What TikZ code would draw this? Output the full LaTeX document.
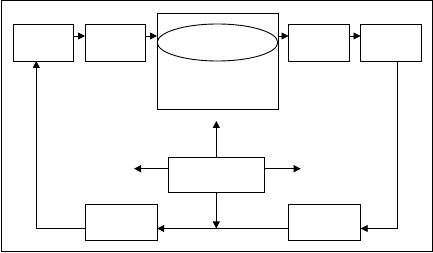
\documentclass[tikz,border=0pt]{standalone}
\usetikzlibrary{arrows.meta,shapes.geometric}
\begin{document}
\begin{tikzpicture}[x=1pt,y=-1pt,
  box/.style={draw,line width=0.9pt,rectangle,inner sep=0pt,outer sep=0pt},
  oval/.style={draw,line width=0.9pt,ellipse,inner sep=0pt,outer sep=0pt},
  arr/.style={line width=0.9pt,-{Triangle[length=7pt,width=7pt]}},
  ln/.style={line width=0.9pt}]
\useasboundingbox (0,0) rectangle (433,253);
\draw[line width=1pt] (1,1) rectangle (432,252);
% top row
\node[box,minimum width=60pt,minimum height=37pt] (b1) at (43,42.5) {};
\node[box,minimum width=60pt,minimum height=37pt] (b2) at (115,42.5) {};
\node[box,minimum width=121pt,minimum height=96pt] (big) at (217.5,61) {};
\node[oval,minimum width=120.5pt,minimum height=37pt] (ell) at (217.5,42.5) {};
\node[box,minimum width=61pt,minimum height=37pt] (b4) at (319,42.5) {};
\node[box,minimum width=61pt,minimum height=37pt] (b5) at (391,42.5) {};
% middle and bottom
\node[box,minimum width=96pt,minimum height=35pt] (b8) at (216.3,174.7) {};
\node[box,minimum width=72pt,minimum height=35.7pt] (b6) at (324.7,222.8) {};
\node[box,minimum width=72pt,minimum height=35.7pt] (b7) at (121.2,222.8) {};
% helper coordinates
\coordinate (r) at (0,36);
\coordinate (k1) at (397.7,228.5);
\coordinate (k2) at (36.3,228.5);
\coordinate (up) at (216.3,121);
\coordinate (lt) at (134,168.7);
\coordinate (rt) at (300.7,168.7);
% top arrows
\draw[arr] (b1.east |- r) -- (b2.west |- r);
\draw[arr] (b2.east |- r) -- (big.west |- r);
\draw[arr] (big.east |- r) -- (b4.west |- r);
\draw[arr] (b4.east |- r) -- (b5.west |- r);
% feedback loop
\draw[arr] (b5.south -| k1) -- (k1) -- (b6.east |- k1);
\draw[arr] (b6.west |- k1) -- (b7.east |- k1);
\draw[arr] (b7.west |- k2) -- (k2) -- (b1.south -| k2);
% center box arrows
\draw[arr] (b8.north -| up) -- (up);
\draw[arr] (b8.west |- lt) -- (lt);
\draw[arr] (b8.east |- rt) -- (rt);
\draw[arr] (b8.south -| up) -- (up |- k1);
\end{tikzpicture}
\end{document}
